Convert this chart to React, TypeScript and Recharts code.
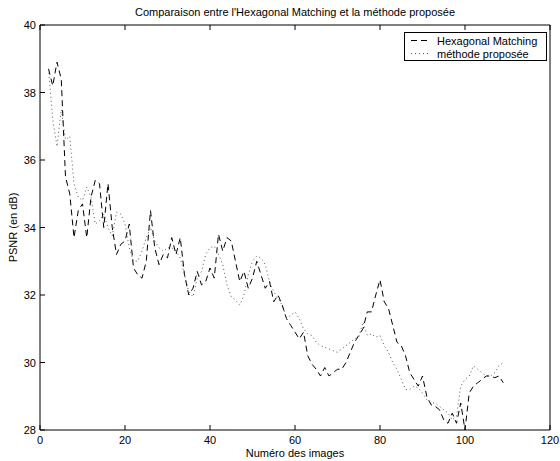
import React from 'react';
import { LineChart, Line, XAxis, YAxis, Legend, Label } from 'recharts';

const frames = [
  2, 3, 4, 5, 6, 7, 8, 9, 10, 11, 12, 13, 14, 15, 16, 17, 18, 19, 20, 21,
  22, 23, 24, 25, 26, 27, 28, 29, 30, 31, 32, 33, 34, 35, 36, 37, 38, 39, 40, 41,
  42, 43, 44, 45, 46, 47, 48, 49, 50, 51, 52, 53, 54, 55, 56, 57, 58, 59, 60, 61,
  62, 63, 64, 65, 66, 67, 68, 69, 70, 71, 72, 73, 74, 75, 76, 77, 78, 79, 80, 81,
  82, 83, 84, 85, 86, 87, 88, 89, 90, 91, 92, 93, 94, 95, 96, 97, 98, 99, 100, 101,
  102, 103, 104, 105, 106, 107, 108, 109,
];

const hexagonalMatching = [
  38.7, 38.2, 38.9, 38.4, 35.5, 35.0, 33.7, 34.5, 34.7, 33.7, 34.9, 35.4, 35.3, 34.0, 35.3, 34.0, 33.2, 33.5, 33.6, 34.1,
  32.8, 32.6, 32.5, 33.0, 34.5, 33.4, 32.9, 33.2, 33.1, 33.7, 33.2, 33.7, 32.6, 32.0, 32.2, 32.7, 32.3, 32.4, 32.8, 32.5,
  33.8, 33.3, 33.7, 33.6, 33.0, 32.4, 32.7, 32.2, 32.5, 33.0, 32.6, 32.2, 32.4, 31.8, 32.0, 31.7, 31.3, 31.1, 30.9, 30.7,
  30.9, 30.2, 29.95, 29.8, 29.6, 29.85, 29.6, 29.7, 29.8, 29.8, 30.0, 30.3, 30.6, 30.8, 31.0, 31.5, 31.5, 32.0, 32.45, 31.8,
  31.6, 31.1, 30.6, 30.5, 30.2, 29.7, 29.5, 29.3, 29.6, 29.0, 28.75, 28.7, 28.6, 28.3, 28.2, 28.5, 28.2, 28.8, 28.0, 29.1,
  29.3, 29.4, 29.5, 29.6, 29.6, 29.55, 29.6, 29.4,
];

const methodeProposee = [
  38.7, 37.2, 36.4, 37.5, 36.6, 36.7, 35.3, 34.9, 34.8, 35.2, 34.9, 34.1, 34.2, 34.4, 34.0, 33.75, 34.45, 34.4, 34.1, 33.4,
  33.0, 33.0, 33.3, 33.7, 34.0, 33.6, 33.4, 33.3, 33.4, 33.4, 33.3, 33.1, 32.6, 32.1, 31.95, 32.5, 32.7, 33.2, 33.4, 33.45,
  33.2, 32.9, 32.3, 31.95, 31.85, 31.7, 32.0, 32.6, 33.0, 33.15, 33.1, 32.9, 32.4, 32.1, 31.9, 31.7, 31.3, 31.4, 31.5, 31.3,
  31.0, 30.85, 30.8, 30.6, 30.5, 30.45, 30.4, 30.35, 30.3, 30.4, 30.5, 30.6, 30.7, 30.75, 31.2, 30.8, 30.85, 30.75, 30.8, 30.5,
  30.3, 30.0, 29.8, 29.5, 29.2, 29.2, 29.3, 29.25, 29.1, 28.9, 28.8, 28.8, 28.7, 28.6, 28.5, 28.3, 28.4, 29.3, 29.5, 29.6,
  29.9, 29.8, 29.7, 29.6, 29.6, 29.7, 29.9, 30.0,
];

const seriesNames = ['Hexagonal Matching', 'méthode proposée'];
const xTicks = [0, 20, 40, 60, 80, 100, 120];
const yTicks = [28, 30, 32, 34, 36, 38, 40];
const titleText = "Comparaison entre l'Hexagonal Matching et la méthode proposée";
const xLabelText = 'Numéro des images';
const yLabelText = 'PSNR (en dB)';

const data = frames.map((f, i) => ({ frame: f, hex: hexagonalMatching[i], prop: methodeProposee[i] }));

const FONT = '"Liberation Sans", Arial, Helvetica, sans-serif';
const FS = 11;
const TICK = 5;

const BottomTick = (props: any) => {
  const { x, y, payload } = props;
  return (
    <g>
      <line x1={x} x2={x} y1={y} y2={y - TICK} stroke="#000" />
      <text x={x} y={y + 14} textAnchor="middle" fontSize={FS} fontFamily={FONT} fill="#000">
        {payload.value}
      </text>
    </g>
  );
};

const TopTick = (props: any) => {
  const { x, y } = props;
  return <line x1={x} x2={x} y1={y} y2={y + TICK} stroke="#000" />;
};

const LeftTick = (props: any) => {
  const { x, y, payload } = props;
  return (
    <g>
      <line x1={x} x2={x + TICK} y1={y} y2={y} stroke="#000" />
      <text x={x - 4} y={y + 4} textAnchor="end" fontSize={FS} fontFamily={FONT} fill="#000">
        {payload.value}
      </text>
    </g>
  );
};

const RightTick = (props: any) => {
  const { x, y } = props;
  return <line x1={x} x2={x - TICK} y1={y} y2={y} stroke="#000" />;
};

const LegendBox = (props: any) => {
  const payload = props.payload || [];
  return (
    <svg width={143} height={29} style={{ display: 'block' }}>
      <rect x={0.5} y={0.5} width={142} height={28} fill="#fff" stroke="#000" />
      {payload.map((p: any, i: number) => (
        <g key={i}>
          <line
            x1={7}
            x2={27}
            y1={8.5 + i * 13}
            y2={8.5 + i * 13}
            stroke={i === 0 ? '#000' : '#444'}
            strokeWidth={i === 0 ? 1 : 0.9}
            strokeDasharray={i === 0 ? '6 4' : '1 3'}
          />
          <text x={33} y={12.5 + i * 13} fontSize={FS} fontFamily={FONT} fill="#000">
            {p.value}
          </text>
        </g>
      ))}
    </svg>
  );
};

export default function App() {
  return (
    <div style={{ position: 'absolute', left: 0, top: 0, background: '#fff' }}>
      <LineChart width={560} height={461} data={data} margin={{ top: 24, right: 9, bottom: 0, left: 0 }}>
        <XAxis
          dataKey="frame"
          type="number"
          domain={[0, 120]}
          ticks={xTicks}
          height={31}
          tickSize={0}
          tickMargin={0}
          tickLine={false}
          axisLine={{ stroke: '#000' }}
          tick={<BottomTick />}
          interval={0}
        >
          <Label
            content={(p: any) => {
              const vb = p.viewBox;
              return (
                <text x={vb.x + vb.width / 2} y={vb.y + 27} textAnchor="middle" fontSize={FS} fontFamily={FONT} fill="#000">
                  {xLabelText}
                </text>
              );
            }}
          />
        </XAxis>
        <XAxis
          xAxisId="top"
          orientation="top"
          dataKey="frame"
          type="number"
          domain={[0, 120]}
          ticks={xTicks}
          height={1}
          tickSize={0}
          tickMargin={0}
          tickLine={false}
          axisLine={{ stroke: '#000' }}
          tick={<TopTick />}
          interval={0}
        >
          <Label
            content={(p: any) => {
              const vb = p.viewBox;
              return (
                <text x={vb.x + vb.width / 2} y={vb.y + vb.height - 9} textAnchor="middle" fontSize={FS} fontFamily={FONT} fill="#000">
                  {titleText}
                </text>
              );
            }}
          />
        </XAxis>
        <YAxis
          type="number"
          domain={[28, 40]}
          ticks={yTicks}
          width={40}
          tickSize={0}
          tickMargin={0}
          tickLine={false}
          axisLine={{ stroke: '#000' }}
          tick={<LeftTick />}
          interval={0}
        >
          <Label
            content={(p: any) => {
              const vb = p.viewBox;
              const cx = vb.x + 17;
              const cy = vb.y + vb.height / 2;
              return (
                <text x={cx} y={cy} transform={`rotate(-90, ${cx}, ${cy})`} textAnchor="middle" fontSize={FS} fontFamily={FONT} fill="#000">
                  {yLabelText}
                </text>
              );
            }}
          />
        </YAxis>
        <YAxis
          yAxisId="right"
          orientation="right"
          type="number"
          domain={[28, 40]}
          ticks={yTicks}
          width={1}
          tickSize={0}
          tickMargin={0}
          tickLine={false}
          axisLine={{ stroke: '#000' }}
          tick={<RightTick />}
          interval={0}
        />
        <Legend
          layout="vertical"
          align="center"
          verticalAlign="middle"
          wrapperStyle={{ left: 404, top: 32, width: 143, height: 29 }}
          content={(p: any) => <LegendBox payload={p.payload} />}
        />
        <Line
          dataKey="hex"
          name={seriesNames[0]}
          type="linear"
          stroke="#000"
          strokeWidth={1}
          strokeDasharray="6 4"
          dot={false}
          activeDot={false}
          isAnimationActive={false}
        />
        <Line
          dataKey="prop"
          name={seriesNames[1]}
          type="linear"
          stroke="#444"
          strokeWidth={0.9}
          strokeDasharray="1 3"
          dot={false}
          activeDot={false}
          isAnimationActive={false}
        />
      </LineChart>
    </div>
  );
}
